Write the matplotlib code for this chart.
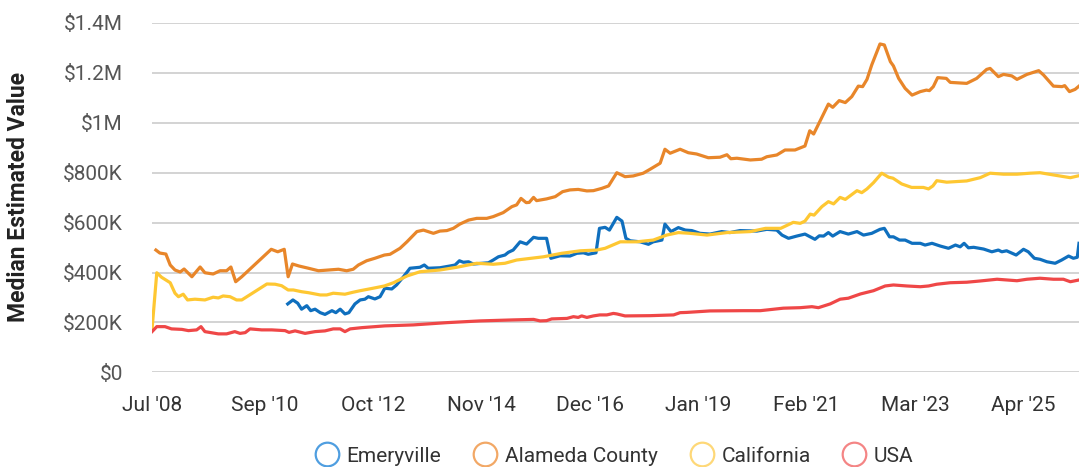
import matplotlib
matplotlib.use("Agg")
import matplotlib.pyplot as plt
from matplotlib.lines import Line2D

plt.rcParams['font.family'] = ['Roboto', 'DejaVu Sans']

# x = months since Jul 2008, values in $K
tick_months = [0, 26, 51, 76, 101, 126, 151, 176, 201]
tick_labels = ["Jul '08", "Sep '10", "Oct '12", "Nov '14", "Dec '16", "Jan '19", "Feb '21", "Mar '23", "Apr '25"]

emery_m = [31.3, 32.5, 33.6, 34.5, 35.7, 36.6, 37.6, 38.8, 39.9, 41.5, 42.4, 43.4, 44.5, 45.4, 46.8, 48.0, 49.1, 49.9,
           51.4, 52.6, 53.7, 55.3, 56.4, 58.0, 59.5, 61.8, 62.8, 63.7, 66.4, 68.7, 69.9, 70.9, 71.8, 73.0, 74.1, 77.6,
           78.7, 79.9, 81.4, 82.2, 83.3, 84.9, 86.4, 88.0, 89.1, 91.0, 92.0, 94.1, 96.4, 98.0, 99.5, 100.6, 102.4, 103.2,
           104.5, 105.5, 107.2, 108.4, 109.3, 110.3, 112.6, 114.5, 115.6, 117.6, 118.3, 119.7, 121.4, 123.0, 124.5,
           126.4, 128.7, 131.4, 133.3, 135.6, 139.5, 141.8, 144.1, 145.3, 146.8, 148.7, 150.6, 151.8, 152.9, 153.9,
           154.9, 156.0, 157.0, 158.7, 160.6, 162.6, 164.1, 166.0, 167.9, 168.9, 170.1, 171.0, 172.4, 173.7, 175.3,
           177.2, 178.3, 179.9, 181.8, 183.7, 185.3, 186.4, 187.3, 188.3, 189.5, 191.8, 193.7, 195.2, 196.0, 197.1,
           199.3, 201.0, 202.1, 203.5, 204.8, 206.4, 208.3, 209.8, 211.4, 212.5, 213.4, 213.8]
emery_v = [274, 290, 277, 253, 267, 247, 253, 239, 232, 247, 239, 253, 234, 239, 274, 290, 293, 303,
           294, 303, 337, 334, 350, 383, 417, 421, 430, 417, 419, 426, 430, 447, 441, 443, 434, 439,
           450, 463, 470, 481, 490, 523, 514, 541, 537, 537, 457, 467, 466, 477, 479, 473, 479, 577,
           581, 570, 621, 606, 537, 527, 523, 513, 523, 530, 594, 564, 580, 570, 568,
           557, 554, 564, 560, 568, 566, 573, 570, 550, 537, 546, 554, 543, 533, 547,
           546, 560, 546, 564, 554, 564, 550, 557, 573, 577, 543, 543, 530, 530, 517,
           517, 510, 517, 506, 497, 510, 503, 517, 499, 501, 494, 483, 490, 483, 487,
           470, 493, 483, 457, 453, 443, 437, 450, 466, 457, 461, 517]

alameda_m = [0.9, 1.8, 3.2, 4.2, 5.3, 6.5, 7.4, 9.2, 11.1, 12.2, 14.1, 15.7, 17.2, 18.2, 19.3, 20.7, 27.5, 29.0, 30.5,
             31.4, 32.4, 33.9, 36.1, 38.4, 40.7, 43.0, 44.9, 46.4, 47.6, 49.5, 51.4, 53.6, 54.9, 57.2, 58.8, 61.1,
             62.6, 64.9, 66.4, 68.0, 69.5, 71.0, 73.0, 74.9, 77.2, 78.7, 81.0, 83.0, 84.1, 85.1, 86.3, 87.0, 88.0,
             88.7, 91.0, 93.0, 94.7, 96.4, 98.3, 100.3, 101.8, 103.7, 105.3, 106.4, 107.2, 109.1, 111.0, 113.3,
             114.9, 117.2, 118.3, 119.5, 121.8, 123.7, 125.6, 128.3, 131.0, 132.6, 133.5, 134.9, 138.0, 140.6,
             141.8, 144.1, 146.0, 148.3, 150.6, 151.7, 152.6, 156.0, 157.0, 158.5, 159.9, 161.4, 162.9, 163.9,
             164.9, 166.0, 167.9, 168.9, 170.3, 171.0, 172.2, 173.7, 175.3, 177.2, 178.6, 179.3, 180.2, 181.2,
             183.2, 184.1, 187.9, 190.2, 192.5, 193.3, 195.2, 196.4, 198.3, 199.5, 201.8, 204.5, 205.6, 207.9,
             209.9, 210.5, 211.6, 212.9, 213.8]
alameda_v = [490, 478, 474, 430, 410, 402, 414, 383, 422, 399, 394, 407, 407, 422, 363, 383, 493, 483, 493,
             383, 434, 426, 417, 407, 410, 413, 407, 413, 430, 447, 457, 470, 473, 497, 523, 564,
             570, 557, 566, 568, 577, 594, 610, 617, 617, 624, 640, 664, 671, 697, 680, 681, 701,
             688, 695, 704, 724, 731, 733, 727, 728, 737, 747, 778, 800, 784, 787, 798,
             814, 838, 894, 878, 894, 880, 875, 860, 862, 872, 856, 858, 851, 854,
             864, 871, 891, 891, 907, 968, 955, 1075, 1062, 1089, 1081, 1105, 1147, 1145,
             1174, 1232, 1316, 1312, 1245, 1228, 1178, 1138, 1111, 1125, 1131, 1129, 1145, 1181,
             1178, 1162, 1158, 1178, 1214, 1218, 1185, 1194, 1188, 1174, 1194, 1209, 1192, 1147,
             1145, 1149, 1125, 1134, 1147]

calif_m = [0, 1.1, 2.2, 4.2, 5.3, 6.1, 7.2, 8.2, 9.9, 12.2, 14.1, 15.3, 16.4, 18.0, 19.5, 20.7, 26.5, 28.4, 29.9,
           31.4, 32.6, 34.5, 36.1, 38.8, 40.3, 41.8, 44.5, 46.4, 48.0, 51.0, 53.6, 55.7, 58.8, 61.8, 66.4, 70.3,
           74.9, 78.7, 81.4, 84.1, 90.3, 94.5, 98.8, 102.6, 104.5, 108.0, 111.8, 115.6, 118.7, 121.4, 124.1, 128.0,
           132.6, 138.0, 141.5, 145.0, 147.9, 149.5, 150.6, 151.8, 152.7, 154.5, 156.0, 157.2, 158.7, 159.9, 162.6,
           163.7, 164.9, 166.4, 168.3, 169.9, 170.9, 172.9, 175.2, 177.9, 179.1, 180.1, 181.0, 183.3, 187.9, 191.0,
           193.3, 196.4, 199.5, 202.5, 204.8, 207.9, 211.8, 213.8]
calif_v = [170, 399, 381, 359, 317, 303, 313, 290, 293, 290, 301, 298, 306, 303, 290, 290, 354, 353, 347,
           330, 330, 323, 319, 310, 310, 317, 313, 321, 327, 337, 346, 359, 386, 403, 410, 421,
           437, 433, 437, 450, 463, 477, 487, 490, 497, 523, 523, 530, 550, 560, 557, 550,
           560, 564, 577, 577, 601, 597, 606, 634, 630, 664, 684, 675, 701, 693, 728,
           720, 735, 760, 798, 782, 778, 755, 741, 741, 735, 747, 768, 762, 767, 780,
           798, 794, 794, 798, 800, 791, 780, 788]

usa_m = [0, 1.1, 3.0, 4.5, 6.9, 8.4, 10.3, 11.3, 12.2, 15.3, 17.2, 19.1, 20.3, 21.5, 22.6, 25.3, 27.6, 30.7, 31.6,
         33.0, 35.3, 37.6, 39.9, 41.8, 43.4, 44.5, 45.7, 48.4, 53.7, 60.3, 68.0, 75.7, 83.3, 88.0, 89.5, 91.0, 92.2,
         95.7, 97.2, 98.3, 99.1, 100.3, 101.8, 103.3, 104.9, 106.4, 107.2, 109.1, 114.9, 120.3, 121.8, 123.3, 128.7,
         136.4, 140.3, 145.6, 149.5, 152.2, 153.7, 156.4, 158.7, 160.6, 163.4, 166.4, 169.1, 171.0, 174.1, 177.2,
         179.1, 181.0, 184.1, 187.9, 191.0, 194.9, 199.5, 201.8, 204.8, 207.9, 210.2, 211.8, 213.8]
usa_v = [163, 183, 183, 174, 172, 167, 170, 183, 163, 154, 154, 163, 156, 159, 174, 170, 170, 167, 160,
         166, 156, 163, 166, 174, 174, 163, 174, 179, 186, 190, 199, 206, 210, 212, 206, 207, 214,
         216, 223, 220, 226, 220, 226, 230, 230, 236, 234, 226, 227, 230, 239, 240, 246,
         247, 247, 257, 259, 263, 259, 274, 293, 297, 314, 327, 346, 350, 346, 343,
         346, 353, 359, 361, 366, 373, 367, 373, 377, 373, 373, 363, 370]

series = [("Emeryville", emery_m, emery_v, "#0f6fbe", "#4f9ee0"),
          ("Alameda County", alameda_m, alameda_v, "#e8862a", "#f2a866"),
          ("California", calif_m, calif_v, "#fec732", "#fed878"),
          ("USA", usa_m, usa_v, "#ef4747", "#f48585")]

fig = plt.figure(figsize=(10.79, 4.67), dpi=100)
ax = fig.add_axes([152 / 1079, 1 - 372.3 / 467, 1 - 152 / 1079, (372.3 - 23) / 467])

handles = []
for name, m, v, c, lc in series:
    ax.plot(m, v, color=c, lw=2.3, solid_joinstyle='round')
    handles.append(Line2D([], [], ls='none', marker='o', markersize=17, markerfacecolor='none',
                          markeredgecolor=lc, markeredgewidth=1.6, label=name))

ax.set_xlim(0, 213.8)
ax.set_ylim(0, 1400)
ax.set_yticks(range(0, 1401, 200))
ax.set_yticklabels(['$0', '$200K', '$400K', '$600K', '$800K', '$1M', '$1.2M', '$1.4M'])
ax.set_xticks(tick_months)
ax.set_xticklabels(tick_labels)
ax.tick_params(axis='y', length=0, pad=21, labelsize=15, labelcolor='#555555')
ax.tick_params(axis='x', length=0, pad=17, labelsize=15, labelcolor='#333333')
ax.grid(axis='y', color='#cccccc', lw=1.2)
ax.set_axisbelow(True)
for s in ax.spines.values():
    s.set_visible(False)

fig.text(19 / 1079, 1 - 197 / 467, 'Median Estimated Value', rotation=90, ha='center', va='center',
         fontsize=16.5, fontweight='bold', color='#222222')

fig.legend(handles=handles, loc='center', bbox_to_anchor=(614 / 1079, 1 - 456 / 467), ncol=4, frameon=False,
           fontsize=15, labelcolor='#333333', handlelength=1.2, handletextpad=0.35, columnspacing=1.5,
           borderpad=0)

fig.savefig('out.png', dpi=100)
